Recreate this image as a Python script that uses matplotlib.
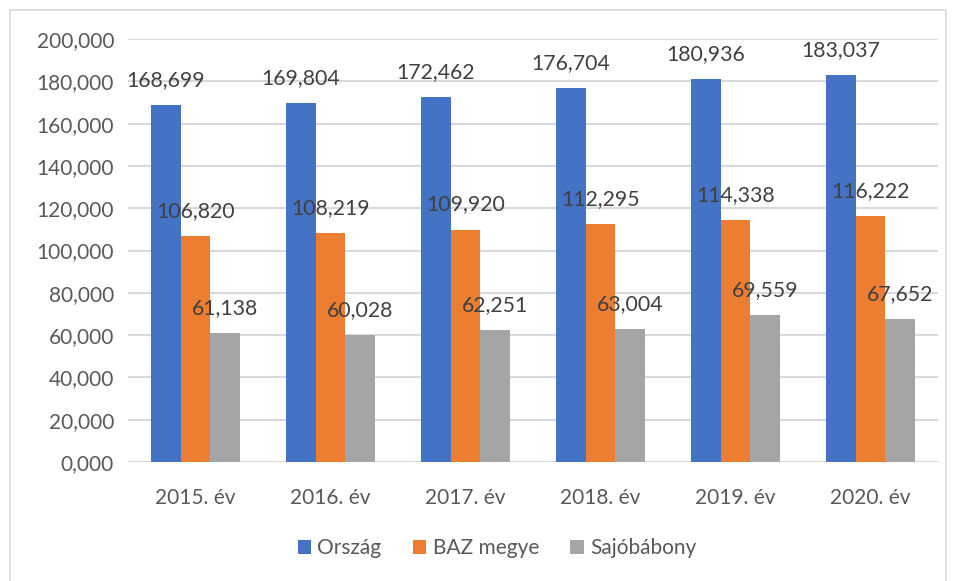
import matplotlib.pyplot as plt
import matplotlib.patches as mpatches
import numpy as np

plt.rcParams['font.family'] = ['Lato', 'DejaVu Sans']

years = ['2015. év', '2016. év', '2017. év', '2018. év', '2019. év', '2020. év']
orszag = [168699, 169804, 172462, 176704, 180936, 183037]
baz = [106820, 108219, 109920, 112295, 114338, 116222]
sajo = [61138, 60028, 62251, 63004, 69559, 67652]
series_names = ['Ország', 'BAZ megye', 'Sajóbábony']
colors = ['#4472c4', '#ed7d31', '#a5a5a5']
yticks = np.arange(0, 200001, 20000)

fig = plt.figure(figsize=(9.57, 5.81), dpi=100)
# chart frame
fig.patches.append(mpatches.Rectangle((10 / 957, -0.05), 936 / 957, 1 - 10 / 581 + 0.05,
                                      transform=fig.transFigure, fill=False,
                                      edgecolor='#d9d9d9', linewidth=1.2))
ax = fig.add_axes([128 / 957, 119 / 581, 810 / 957, 423 / 581])

x = np.arange(len(years))
w = 0.222
for i, (vals, name, c) in enumerate(zip([orszag, baz, sajo], series_names, colors)):
    pos = x + (i - 1) * w
    ax.bar(pos, vals, width=w, color=c, label=name, zorder=3)
    for px, v in zip(pos, vals):
        ax.annotate(f'{v:,}', (px, v), xytext=(0, 18), textcoords='offset points',
                    ha='center', va='center', fontsize=15.3, color='#404040', zorder=4)

ax.set_xlim(-0.5, len(years) - 0.5)
ax.set_ylim(0, 200000)
ax.set_yticks(yticks)
ax.set_yticklabels([f'{int(t / 1000)},000' if t else '0,000' for t in yticks])
ax.set_xticks(x)
ax.set_xticklabels(years)
ax.tick_params(axis='both', length=0, labelsize=15, labelcolor='#595959')
ax.tick_params(axis='x', pad=19)
ax.tick_params(axis='y', pad=10)
ax.grid(axis='y', color='#d9d9d9', linewidth=1.5, zorder=0)
for s in ax.spines.values():
    s.set_visible(False)

ax.legend(loc='center', bbox_to_anchor=(497 / 957, 33 / 581), bbox_transform=fig.transFigure,
          ncol=3, frameon=False, fontsize=15, labelcolor='#595959',
          handlelength=0.65, handleheight=0.65, handletextpad=0.3, columnspacing=1.5)

fig.savefig('out.png', dpi=100)
